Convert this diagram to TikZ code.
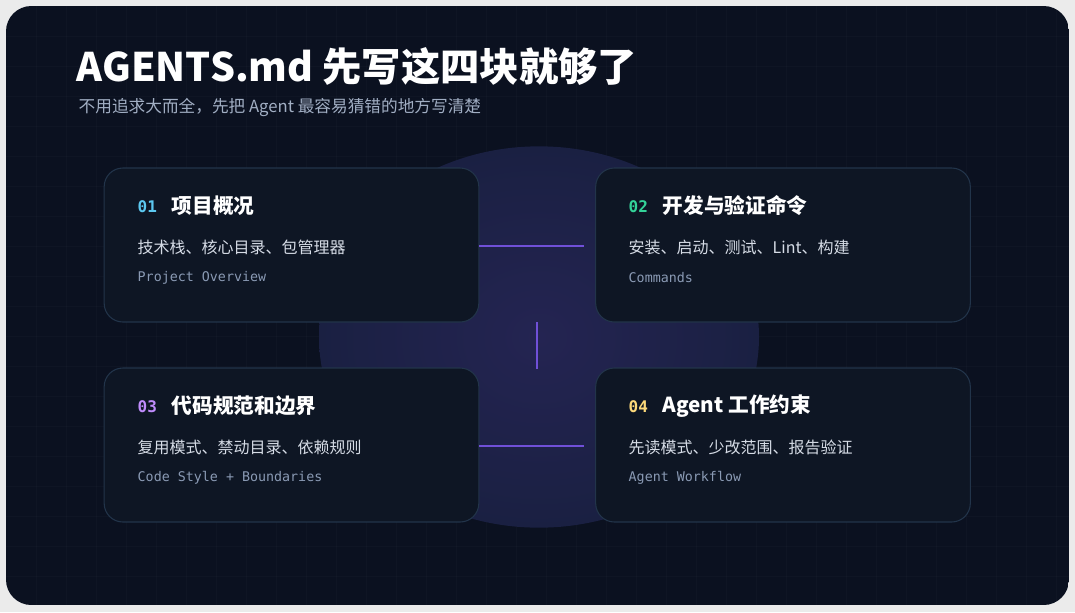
\documentclass[tikz,border=0pt]{standalone}
\usepackage{fontspec}
\setmainfont{Noto Sans CJK SC}
\newfontfamily\cjk{Noto Sans CJK SC}
\setmonofont{DejaVu Sans Mono}
\definecolor{bgc}{HTML}{0B1120}
\definecolor{cardf}{HTML}{0E1624}
\definecolor{cardb}{HTML}{22344A}
\definecolor{linec}{HTML}{7050D8}
\definecolor{nA}{HTML}{5CC8F0}
\definecolor{nB}{HTML}{34D399}
\definecolor{nC}{HTML}{C08CFC}
\definecolor{nD}{HTML}{FCD97A}
\definecolor{subc}{HTML}{D6DCE6}
\definecolor{monoc}{HTML}{8A9AB4}
\tikzset{x=0.75pt,y=-0.75pt,
 card/.style={draw=cardb,line width=0.8pt,fill=cardf,rounded corners=14pt,minimum width=281pt,minimum height=115.5pt,inner sep=0pt},
 conn/.style={draw=linec,line width=2.2pt},
 num/.style={anchor=west,font=\ttfamily\bfseries\fontsize{12}{14}\selectfont},
 ttl/.style={anchor=west,text=white,font=\bfseries\fontsize{15.5}{18}\selectfont},
 sub/.style={anchor=west,text=subc,font=\fontsize{12}{14}\selectfont},
 mono/.style={anchor=west,text=monoc,font=\ttfamily\fontsize{10}{12}\selectfont}}
\begin{document}
\begin{tikzpicture}
\fill[white!92!black] (0,0) rectangle (1075,612);
\useasboundingbox (0,0) rectangle (1075,612);
\begin{scope}
\clip[rounded corners=19pt] (6,6) rectangle (1069,605);
\fill[bgc] (6,6) rectangle (1069,605);
\foreach \gx in {36,66,...,1069} \draw[white,opacity=0.018] (\gx,6) -- (\gx,605);
\foreach \gy in {36,66,...,605} \draw[white,opacity=0.018] (6,\gy) -- (1069,\gy);
\shade[inner color={rgb,255:red,36;green,36;blue,82},outer color={rgb,255:red,26;green,32;blue,66}] (539,337) ellipse (165pt and 143pt);
\end{scope}
\node[anchor=west,text=white,font=\bfseries\fontsize{29.5}{33}\selectfont] (title) at (72,66) {AGENTS.md 先写这四块就够了};
\node[anchor=west,text=monoc!80!white,font=\fontsize{12.5}{15}\selectfont] (subtitle) at (74,107) {不用追求大而全，先把 Agent 最容易猜错的地方写清楚};
\node[card] (c1) at (291.5,245) {};
\node[card] (c2) at (783,245) {};
\node[card] (c3) at (291.5,445) {};
\node[card] (c4) at (783,445) {};
\coordinate (v1) at (537,322);
\coordinate (v2) at (537,369);
\draw[conn] ([yshift=-0.75pt]c1.east) -- ([xshift=-8pt,yshift=-0.75pt]c2.west);
\draw[conn] ([yshift=-0.75pt]c3.east) -- ([xshift=-8pt,yshift=-0.75pt]c4.west);
\draw[conn] (v1) -- (v2);
\node[num,text=nA] (n1) at (133,207) {01};
\node[ttl] (t1) at (167,206) {项目概况};
\node[sub] (s1) at (133,247) {技术栈、核心目录、包管理器};
\node[mono] (m1) at (133,278) {Project Overview};
\node[num,text=nB] (n2) at (624,207) {02};
\node[ttl] (t2) at (658,206) {开发与验证命令};
\node[sub] (s2) at (624,247) {安装、启动、测试、Lint、构建};
\node[mono] (m2) at (624,278) {Commands};
\node[num,text=nC] (n3) at (133,407) {03};
\node[ttl] (t3) at (167,406) {代码规范和边界};
\node[sub] (s3) at (133,447) {复用模式、禁动目录、依赖规则};
\node[mono] (m3) at (133,478) {Code Style + Boundaries};
\node[num,text=nD] (n4) at (624,407) {04};
\node[ttl] (t4) at (658,406) {Agent 工作约束};
\node[sub] (s4) at (624,447) {先读模式、少改范围、报告验证};
\node[mono] (m4) at (624,478) {Agent Workflow};
\end{tikzpicture}
\end{document}
